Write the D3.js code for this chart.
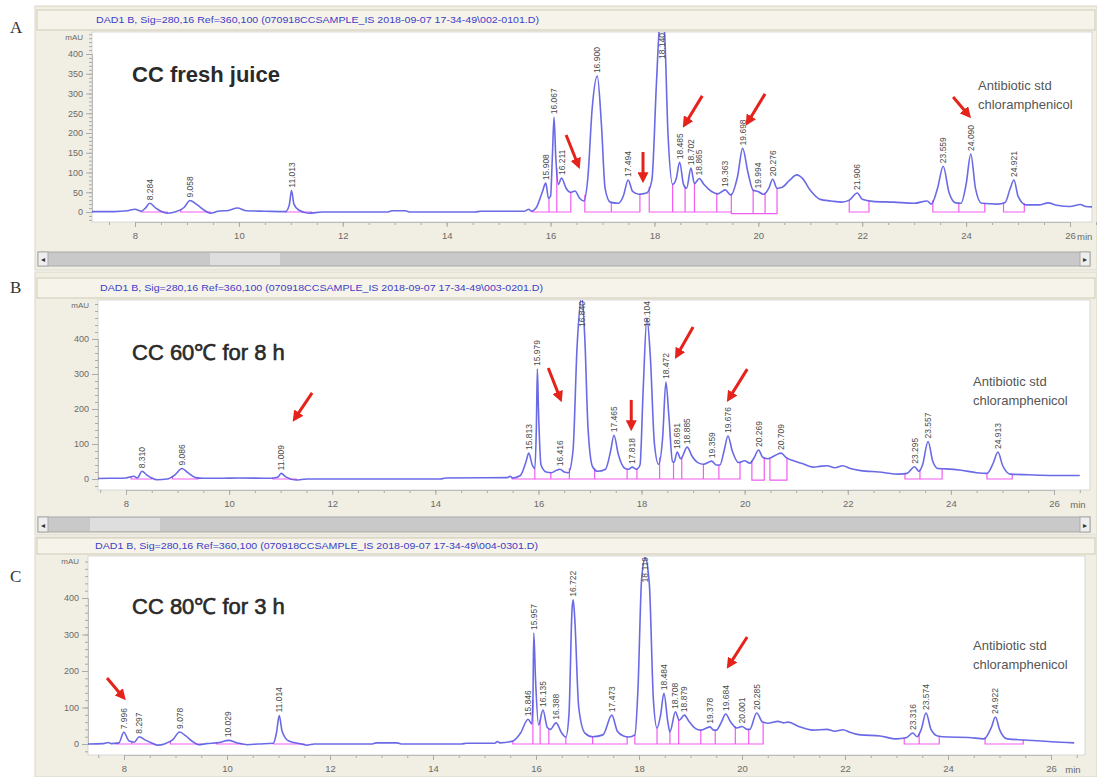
<!DOCTYPE html>
<html>
<head>
<meta charset="utf-8">
<script src="https://cdn.jsdelivr.net/npm/d3@7"></script>
<style>
  body { margin: 0; background: #fff; }
  svg { display: block; font-family: Arial, "Liberation Sans", sans-serif; }
</style>
</head>
<body>
<svg id="chart" width="1097" height="777"></svg>
<script>
// ---- data (retention time in min, signal in mAU) ----
const headers = [
  "DAD1 B, Sig=280,16 Ref=360,100 (070918CCSAMPLE_IS 2018-09-07 17-34-49\\002-0101.D)",
  "DAD1 B, Sig=280,16 Ref=360,100 (070918CCSAMPLE_IS 2018-09-07 17-34-49\\003-0201.D)",
  "DAD1 B, Sig=280,16 Ref=360,100 (070918CCSAMPLE_IS 2018-09-07 17-34-49\\004-0301.D)"
];
const titles = ["CC fresh juice", "CC 60\u2103 for 8 h", "CC 80\u2103 for 3 h"];
const panelLetters = ["A", "B", "C"];
const stdLabel = ["Antibiotic std", "chloramphenicol"];

const traceA = [
  [7.1,1],[7.6,1],[7.85,3],[8.0,7],[8.12,2],[8.2,10],[8.284,22],[8.4,10],[8.5,2],[8.62,-3],
  [8.8,1],[8.95,12],[9.058,29],[9.2,18],[9.35,3],[9.45,-3],[9.6,2],[9.8,4],[9.97,10],[10.15,3],
  [10.5,2],[10.9,1],[10.97,18],[11.013,54],[11.06,20],[11.15,5],[11.35,-3],[11.6,0],[12.85,0],
  [12.95,3],[13.2,3],[13.3,0],[14.55,0],[14.65,2],[15.5,2],[15.58,7],[15.63,2],[15.72,10],
  [15.84,50],[15.908,73],[15.96,35],[16.0,40],[16.035,140],[16.067,240],[16.1,140],[16.15,70],
  [16.211,86],[16.3,60],[16.38,50],[16.47,53],[16.56,35],[16.64,28],[16.72,90],[16.8,260],
  [16.9,344],[16.98,220],[17.05,60],[17.15,25],[17.3,22],[17.4,40],[17.494,81],[17.58,52],
  [17.7,45],[17.85,48],[17.95,80],[18.04,330],[18.1,470],[18.14,480],[18.19,460],[18.26,200],
  [18.35,70],[18.42,85],[18.485,126],[18.56,70],[18.62,60],[18.702,111],[18.77,72],[18.865,85],
  [18.95,70],[19.1,52],[19.22,46],[19.363,56],[19.47,43],[19.6,90],[19.698,161],[19.8,100],
  [19.9,55],[19.994,52],[20.1,45],[20.2,60],[20.276,83],[20.36,60],[20.45,62],[20.6,80],
  [20.74,94],[20.85,85],[21.0,55],[21.19,32],[21.4,28],[21.6,25],[21.75,30],[21.906,48],
  [22.0,32],[22.2,27],[22.6,25],[23.0,22],[23.25,28],[23.33,20],[23.45,60],[23.559,116],
  [23.67,50],[23.8,23],[23.9,22],[24.0,70],[24.09,147],[24.18,60],[24.3,22],[24.6,20],
  [24.75,24],[24.85,60],[24.921,81],[25.0,40],[25.15,18],[25.4,18],[25.58,23],[25.75,17],
  [26.0,14],[26.2,19],[26.3,14],[26.45,13]
];
const traceB = [
  [7.2,1],[7.7,2],[8.0,3],[8.15,8],[8.22,3],[8.31,22],[8.4,12],[8.5,3],[8.6,-2],[8.8,0],
  [8.95,12],[9.086,30],[9.2,18],[9.35,4],[9.5,2],[9.8,2],[10.2,3],[10.8,2],[10.95,6],[11.009,16],
  [11.1,6],[11.3,-3],[11.5,0],[14.1,0],[14.2,3],[15.4,4],[15.45,8],[15.5,3],[15.65,10],
  [15.76,50],[15.813,74],[15.88,40],[15.93,30],[15.96,150],[15.979,314],[16.0,200],[16.05,40],
  [16.15,20],[16.25,18],[16.35,25],[16.416,28],[16.5,20],[16.58,18],[16.67,80],[16.75,380],
  [16.84,520],[16.9,400],[16.96,150],[17.05,35],[17.15,22],[17.3,28],[17.4,80],[17.465,125],
  [17.55,70],[17.68,30],[17.75,28],[17.818,34],[17.9,28],[17.97,40],[18.03,250],[18.104,460],
  [18.17,350],[18.25,100],[18.33,42],[18.41,120],[18.472,277],[18.53,180],[18.6,50],[18.63,48],
  [18.691,77],[18.76,58],[18.885,91],[18.98,65],[19.1,46],[19.2,42],[19.359,51],[19.45,40],
  [19.52,40],[19.6,80],[19.676,123],[19.76,80],[19.88,47],[20.0,52],[20.1,45],[20.18,60],
  [20.269,83],[20.35,62],[20.45,58],[20.6,68],[20.709,74],[20.8,62],[20.95,52],[21.1,45],
  [21.33,34],[21.45,36],[21.6,38],[21.75,32],[21.9,38],[22.05,30],[22.25,24],[22.6,20],
  [23.0,14],[23.15,16],[23.295,35],[23.38,22],[23.45,40],[23.557,107],[23.65,50],[23.75,30],
  [23.9,29],[24.2,25],[24.5,18],[24.7,16],[24.82,45],[24.913,77],[25.0,40],[25.15,14],
  [25.5,12],[26.0,10],[26.5,10]
];
const traceC = [
  [7.2,0],[7.6,1],[7.7,4],[7.75,1],[7.9,3],[7.996,32],[8.1,8],[8.2,5],[8.297,20],[8.4,12],
  [8.55,2],[8.65,-3],[8.8,1],[8.95,12],[9.078,33],[9.2,22],[9.35,5],[9.45,-2],[9.6,1],[9.85,4],
  [10.029,10],[10.2,3],[10.4,-2],[10.6,0],[10.9,2],[10.96,30],[11.014,78],[11.07,35],[11.2,8],
  [11.45,0],[11.55,-3],[11.7,0],[12.8,0],[12.9,3],[13.3,3],[13.4,0],[14.55,0],[14.65,2],
  [15.2,2],[15.25,7],[15.3,3],[15.55,8],[15.7,30],[15.846,68],[15.92,55],[15.94,120],
  [15.957,304],[15.99,180],[16.05,52],[16.135,93],[16.22,45],[16.28,40],[16.388,58],[16.5,30],
  [16.58,19],[16.64,80],[16.7,370],[16.722,395],[16.75,350],[16.83,100],[16.95,30],[17.1,20],
  [17.3,25],[17.473,79],[17.58,35],[17.7,22],[17.8,19],[17.92,25],[17.98,150],[18.05,450],
  [18.119,510],[18.2,440],[18.28,120],[18.35,44],[18.42,80],[18.484,139],[18.56,60],[18.6,33],
  [18.708,88],[18.78,65],[18.879,79],[18.98,60],[19.1,42],[19.2,38],[19.378,47],[19.45,38],
  [19.5,38],[19.6,60],[19.684,82],[19.78,60],[19.9,44],[20.001,48],[20.1,40],[20.15,40],
  [20.285,85],[20.4,60],[20.5,57],[20.7,62],[20.8,58],[20.9,60],[21.1,48],[21.38,38],
  [21.65,40],[21.8,35],[21.96,39],[22.1,32],[22.3,25],[22.68,22],[23.0,14],[23.2,18],
  [23.316,30],[23.4,20],[23.48,40],[23.574,85],[23.67,40],[23.8,22],[24.0,19],[24.4,18],
  [24.7,14],[24.84,45],[24.922,74],[25.0,40],[25.15,14],[25.5,11],[26.0,6],[26.45,3]
];

const labelsA = ["8.284","9.058","11.013","15.908","16.067","16.211","16.900","17.494","18.140",
  "18.485","18.702","18.865","19.363","19.698","19.994","20.276","21.906","23.559","24.090","24.921"];
const labelsB = ["8.310","9.086","11.009","15.813","15.979","16.416","16.840","17.465","17.818",
  "18.104","18.472","18.691","18.885","19.359","19.676","20.269","20.709","23.295","23.557","24.913"];
const labelsC = ["7.996","8.297","9.078","10.029","11.014","15.846","15.957","16.135","16.388",
  "16.722","17.473","18.119","18.484","18.708","18.879","19.378","19.684","20.001","20.285",
  "23.316","23.574","24.922"];

// integration baselines: [start, end, split times, level]
const integA = [
  [8.12,8.62,[],0],[8.88,9.45,[],0],[10.9,11.4,[],0],
  [15.65,16.39,[15.97,16.12],0],[16.66,17.72,[17.17],0],
  [17.9,19.48,[18.35,18.59,18.77,19.2],0],[19.48,20.36,[19.9,20.13],-4],
  [21.75,22.13,[],0],[23.36,24.36,[23.86],0],[24.72,25.12,[],0]
];
const integB = [
  [8.1,8.5,[],0],[8.9,9.4,[],0],[10.85,11.3,[],0],
  [15.49,19.91,[15.93,16.24,16.6,17.09,17.72,17.91,18.35,18.62,18.78,19.2,19.5],0],
  [20.14,20.38,[],-3],[20.49,20.82,[],-3],
  [23.11,23.83,[23.4],0],[24.7,25.19,[],0]
];
const integC = [
  [7.85,8.6,[8.15],0],[8.9,9.5,[],0],[9.8,10.3,[],0],[10.9,11.5,[],0],
  [15.55,17.77,[15.94,16.08,16.25,16.58,17.1],0],
  [17.92,20.41,[18.35,18.6,18.77,19.2,19.48,19.87,20.13],0],
  [23.15,23.83,[23.44],0],[24.72,25.46,[],0]
];

// red arrows: [tail t, tail mAU, head t, head mAU]
const arrowsA = [[16.30,195,16.53,119],[17.78,152,17.78,84],[18.92,294,18.59,223],
  [20.13,299,19.80,228],[23.75,291,24.04,246]];
const arrowsB = [[11.61,246,11.28,174],[16.19,317,16.42,231],[17.80,226,17.80,149],
  [19.0,434,18.69,354],[20.05,314,19.70,231]];
const arrowsC = [[7.67,181,7.98,129],[20.10,293,19.75,216]];

// ---- layout ----
const panels = [
  { frame:[35,6,1097,270], band:[10,30], headX:96, headY:23,
    plot:[92,32,1092,222], xr:[135,1070], yr:[212,54], yStep:50, yMinor:10,
    minX:1077, minAnchor:"start", scroll:[252,266], letterY:33,
    titleY:82, heavy:1, stdX:978, stdY:[90,109] },
  { frame:[35,272,1097,535], band:[278,298], headX:100, headY:291,
    plot:[98,300,1090,490], xr:[126,1054], yr:[479,339], yStep:100, yMinor:20,
    minX:1078, minAnchor:"middle", scroll:[517,532], letterY:293,
    titleY:360, heavy:0, stdX:973, stdY:[386,405] },
  { frame:[35,537,1097,777], band:[538,554], headX:95, headY:549,
    plot:[88,556,1085,755], xr:[124,1051], yr:[744,598], yStep:100, yMinor:20,
    minX:1073, minAnchor:"middle", scroll:null, letterY:582,
    titleY:614, heavy:0, stdX:973, stdY:[650,669] }
];

const svg = d3.select("#chart");
const defs = svg.append("defs");
defs.append("marker")
  .attr("id", "redhead")
  .attr("viewBox", "0 0 10 10")
  .attr("refX", 6).attr("refY", 5)
  .attr("markerUnits", "userSpaceOnUse")
  .attr("markerWidth", 11).attr("markerHeight", 11)
  .attr("orient", "auto")
  .append("path").attr("d", "M0,0 L10,5 L0,10 z").attr("fill", "#e5231b");

function valueAt(trace, t) {
  const i = d3.bisector(d => d[0]).left(trace, t);
  if (i <= 0) return trace[0][1];
  if (i >= trace.length) return trace[trace.length - 1][1];
  const a = trace[i - 1], b = trace[i];
  return a[1] + (b[1] - a[1]) * (t - a[0]) / (b[0] - a[0]);
}

function drawPanel(idx, trace, labels, integ, arrows) {
  const p = panels[idx];
  const [px0, py0, px1, py1] = p.plot;
  const g = svg.append("g");

  // window frame
  g.append("rect")
    .attr("x", p.frame[0]).attr("y", p.frame[1])
    .attr("width", p.frame[2] - p.frame[0]).attr("height", p.frame[3] - p.frame[1])
    .attr("fill", "#f1efe3").attr("stroke", "#d9d6c6");
  g.append("rect")
    .attr("x", p.frame[0] + 2).attr("y", p.band[0])
    .attr("width", p.frame[2] - p.frame[0] - 4).attr("height", p.band[1] - p.band[0])
    .attr("fill", "#f6f4ea").attr("stroke", "#cfcbb7");
  g.append("text")
    .attr("x", p.headX).attr("y", p.headY)
    .attr("font-size", 9.5).attr("fill", "#3c3cc8")
    .attr("textLength", 443).attr("lengthAdjust", "spacingAndGlyphs")
    .text(headers[idx]);

  // plot area
  g.append("rect")
    .attr("x", px0).attr("y", py0).attr("width", px1 - px0).attr("height", py1 - py0)
    .attr("fill", "#fff").attr("stroke", "#cfcfcf").attr("stroke-width", 0.8);

  const x = d3.scaleLinear().domain([8, 26]).range(p.xr);
  const y = d3.scaleLinear().domain([0, 400]).range(p.yr);
  const yBottom = y.invert(py1), yTop = y.invert(py0);

  // y ruler
  const yMinorAxis = d3.axisLeft(y)
    .tickValues(d3.range(Math.ceil(yBottom / p.yMinor) * p.yMinor, yTop, p.yMinor))
    .tickSize(3).tickFormat("");
  const ym = g.append("g").attr("transform", `translate(${px0},0)`).call(yMinorAxis);
  const yMajorAxis = d3.axisLeft(y).tickValues(d3.range(0, 401, p.yStep)).tickSize(6).tickPadding(3);
  const yM = g.append("g").attr("transform", `translate(${px0},0)`).call(yMajorAxis);
  [ym, yM].forEach(a => {
    a.select(".domain").attr("stroke", "#bbb");
    a.selectAll(".tick line").attr("stroke", "#aaa");
    a.selectAll("text").attr("font-size", 9).attr("fill", "#6a6a6a").attr("font-family", "Arial");
  });
  g.append("text")
    .attr("x", px0 - 9).attr("y", py0 + 8)
    .attr("text-anchor", "end").attr("font-size", 8).attr("fill", "#6a6a6a")
    .text("mAU");

  // x axis
  const xMinorAxis = d3.axisBottom(x).tickValues(d3.range(7.5, 26.6, 0.5)).tickSize(3).tickFormat("");
  const xm = g.append("g").attr("transform", `translate(0,${py1})`).call(xMinorAxis);
  const xMajorAxis = d3.axisBottom(x).tickValues(d3.range(8, 27, 2)).tickSize(5).tickPadding(5);
  const xM = g.append("g").attr("transform", `translate(0,${py1})`).call(xMajorAxis);
  [xm, xM].forEach(a => {
    a.select(".domain").attr("stroke", "#bbb");
    a.selectAll(".tick line").attr("stroke", "#aaa");
    a.selectAll("text").attr("font-size", 9.5).attr("fill", "#6a6a6a").attr("font-family", "Arial");
  });
  g.append("text")
    .attr("x", p.minX).attr("y", py1 + 18)
    .attr("text-anchor", p.minAnchor).attr("font-size", 9.5).attr("fill", "#6a6a6a")
    .text("min");

  // clip
  defs.append("clipPath").attr("id", "clip" + idx)
    .append("rect").attr("x", px0).attr("y", py0).attr("width", px1 - px0).attr("height", py1 - py0);
  const inner = g.append("g").attr("clip-path", `url(#clip${idx})`);

  // integration baselines
  const pink = d3.path();
  integ.forEach(([t0, t1, splits, lev]) => {
    pink.moveTo(x(t0), y(valueAt(trace, t0)));
    pink.lineTo(x(t0), y(lev));
    pink.lineTo(x(t1), y(lev));
    pink.lineTo(x(t1), y(valueAt(trace, t1)));
    splits.forEach(s => {
      pink.moveTo(x(s), y(lev));
      pink.lineTo(x(s), y(valueAt(trace, s)));
    });
  });
  inner.append("path").attr("d", pink.toString())
    .attr("fill", "none").attr("stroke", "#f05cf0").attr("stroke-width", 1.2);

  // signal trace
  const line = d3.line().x(d => x(d[0])).y(d => y(d[1])).curve(d3.curveMonotoneX);
  inner.append("path").datum(trace).attr("d", line)
    .attr("fill", "none").attr("stroke", "#5050e2").attr("stroke-width", 1.6)
    .attr("stroke-linejoin", "round").attr("opacity", 0.85);

  // peak labels
  labels.forEach(lab => {
    const t = +lab;
    const near = trace.filter(d => Math.abs(d[0] - t) < 0.05);
    const v = d3.max(near, d => d[1]);
    const tx = g.append("text")
      .attr("font-size", 8.5).attr("fill", "#4a4a4a")
      .attr("text-anchor", "start").text(lab);
    const len = tx.node().getComputedTextLength();
    const bottom = Math.max(y(v) - 3, py0 + len + 1);
    tx.attr("transform", `translate(${x(t) + 3},${bottom}) rotate(-90)`);
  });

  // title and standard note
  g.append("text")
    .attr("x", 132).attr("y", p.titleY)
    .attr("font-size", 22).attr("font-weight", p.heavy ? "bold" : "normal")
    .attr("stroke", p.heavy ? "none" : "#2a2a2a").attr("stroke-width", 0.6)
    .attr("fill", "#2a2a2a").text(titles[idx]);
  stdLabel.forEach((s, i) => {
    g.append("text").attr("x", p.stdX).attr("y", p.stdY[i])
      .attr("font-size", 13).attr("fill", "#555").text(s);
  });

  // red arrows
  arrows.forEach(([t0, v0, t1, v1]) => {
    g.append("line")
      .attr("x1", x(t0)).attr("y1", y(v0)).attr("x2", x(t1)).attr("y2", y(v1))
      .attr("stroke", "#e5231b").attr("stroke-width", 3)
      .attr("marker-end", "url(#redhead)");
  });

  // scroll bar
  if (p.scroll) {
    const [s0, s1] = p.scroll;
    g.append("rect").attr("x", 38).attr("y", s0).attr("width", 1052).attr("height", s1 - s0)
      .attr("fill", "#c9c9c9").attr("stroke", "#a9a9a9");
    g.append("rect").attr("x", 38).attr("y", s0).attr("width", 10).attr("height", s1 - s0)
      .attr("fill", "#eeeeee").attr("stroke", "#a9a9a9");
    g.append("rect").attr("x", 1080).attr("y", s0).attr("width", 10).attr("height", s1 - s0)
      .attr("fill", "#eeeeee").attr("stroke", "#a9a9a9");
    g.append("text").attr("x", 43).attr("y", s1 - 4).attr("text-anchor", "middle")
      .attr("font-size", 8).attr("fill", "#333").text("\u25C2");
    g.append("text").attr("x", 1085).attr("y", s1 - 4).attr("text-anchor", "middle")
      .attr("font-size", 8).attr("fill", "#333").text("\u25B8");
    g.append("rect").attr("x", idx === 0 ? 210 : 90).attr("y", s0 + 1)
      .attr("width", 70).attr("height", s1 - s0 - 2).attr("fill", "#dedede");
  }

  // panel letter
  svg.append("text")
    .attr("x", 10).attr("y", p.letterY)
    .attr("font-family", "'Liberation Serif', serif").attr("font-size", 17)
    .attr("fill", "#333").text(panelLetters[idx]);
}

drawPanel(0, traceA, labelsA, integA, arrowsA);
drawPanel(1, traceB, labelsB, integB, arrowsB);
drawPanel(2, traceC, labelsC, integC, arrowsC);
</script>
</body>
</html>
